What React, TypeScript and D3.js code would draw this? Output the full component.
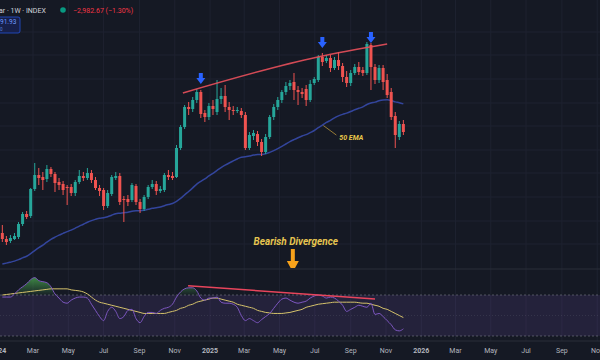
import React from "react";
import * as d3 from "d3";

const W = 600;
const H = 360;

// weekly candles (Mondays)
const weeks: Date[] = d3.timeMonday.range(new Date(2024, 0, 8), new Date(2025, 11, 2));

const opens = [127,121,119,121,123,136,146,144,171,185,183,181,191,186,178,176,173,173,167,178,
  184,182,187,180,172,170,154,166,182,184,161,161,160,174,158,151,163,173,176,169,
  170,185,184,183,212,233,253,251,260,268,247,243,254,248,261,264,253,250,249,249,
  245,212,224,226,218,208,223,243,253,260,268,274,278,270,268,271,260,277,280,303,
  299,302,292,300,294,283,277,287,293,290,287,315,293,280,292,280,268,244,223,236];
const highs = [135,124,125,127,138,148,149,172,197,192,188,195,193,188,182,179,175,176,180,190,
  188,192,190,183,175,172,170,185,188,187,164,165,177,176,161,165,175,180,179,174,
  187,190,188,215,235,255,258,263,271,270,250,257,260,280,272,275,258,254,253,252,
  248,228,230,229,221,226,245,256,263,270,278,280,287,274,272,275,280,283,305,307,
  305,305,303,308,297,289,290,296,298,293,318,317,296,295,295,286,272,248,239,240];
const lows = [118,115,117,120,121,134,141,142,169,175,170,178,183,168,170,165,155,164,164,176,
  179,180,177,170,164,150,152,164,180,155,138,154,158,155,147,149,161,171,165,167,
  168,180,180,182,210,231,245,248,257,242,238,240,245,245,256,248,240,245,247,242,
  210,210,220,214,204,206,221,240,250,257,265,270,260,255,262,254,258,275,278,294,
  297,288,290,290,278,273,274,285,285,284,285,270,276,277,270,262,240,212,220,225];
const closes = [121,118,122,124,136,146,143,171,185,182,180,191,186,177,175,170,172,167,178,184,
  182,187,180,172,169,154,167,183,184,158,160,158,175,158,151,163,173,176,169,171,
  185,183,182,212,233,253,251,260,268,246,243,254,251,261,264,253,250,249,250,245,
  212,225,227,218,208,223,243,253,260,268,274,277,270,268,266,260,276,281,303,298,
  302,292,300,294,283,277,287,293,288,287,316,293,280,292,278,265,243,225,236,228];
const emaSeed = 96;

const rsiValues = [68,68,68,71,75,78,81,85,87,84,83,82,78,71,67,63,62,65,67,68,
  68,67,61,55,49,45,54,58,54,47,49,55,56,47,43,49,53,53,52,55,
  57,58,61,68,73,76,77,77,74,67,65,67,67,68,63,62,62,61,58,50,
  45,47,45,43,46,49,52,57,62,66,67,65,63,62,63,64,67,69,70,69,
  67,68,67,64,60,54,56,58,60,59,58,62,51,52,49,45,41,36,35,37];
const rsiMaValues = [70,70.5,71,71.5,72,72.5,73,73.5,74,74.5,75,75.5,76,76,76,76,76,75,74.5,74,
  73,71,68,65,63,62,61,60,59,58,57,56,55,54,53,52,52,52,52,52,
  52,53,54,55,57,58,60,61,63,64,65,66,67,67,66,65,64,63,61,60,
  59,58,57,55,54,53,52.5,52,52,52,52.5,53,54,55,56,58,59,60,61,61.5,
  62,62.5,63,63,63,63,63,63,62.5,62,62,61,60,59,57,56,54,52,50,48];

const priceGridTicks = [328, 305, 281, 257, 234, 210, 187, 163, 139, 116];
const rsiBands = [70, 30];

const resistancePts: [Date, number][] = [
  [new Date(2024, 10, 15), 267],
  [new Date(2025, 6, 6), 303],
  [new Date(2025, 10, 3), 316],
];
const divergencePts: [Date, number][] = [
  [new Date(2024, 10, 24), 79],
  [new Date(2025, 9, 13), 66],
];
const peakArrows = [
  { i: 49, v: 276 },
  { i: 79, v: 312 },
  { i: 91, v: 317 },
];
const emaNoteDate = new Date(2025, 6, 14);
const divergenceNoteDate = new Date(2025, 4, 24);

const UP = "#26a69a";
const DOWN = "#ef5350";

export default function App() {
  const x = d3.scaleTime().domain([new Date(2024, 2, 1), new Date(2025, 10, 1)]).range([33, 386]);
  const y = d3.scaleLinear().domain([110, 320]).range([250, 40]);
  const ry = d3.scaleLinear().domain([30, 70]).range([336, 295]);

  const alpha = 2 / 51;
  const ema: number[] = [];
  closes.forEach((c, i) => {
    ema.push(i === 0 ? emaSeed : ema[i - 1] + alpha * (c - ema[i - 1]));
  });

  const timeTicks = d3.timeMonth.every(2)!.range(x.invert(-30), x.invert(630));
  const fmt = (d: Date) => (d.getMonth() === 0 ? d3.timeFormat("%Y")(d) : d3.timeFormat("%b")(d));

  const emaLine = d3.line<number>().x((_, i) => x(weeks[i])).y((v) => y(v)).curve(d3.curveMonotoneX)(ema) || "";
  const rsiLine = d3.line<number>().x((_, i) => x(weeks[i])).y((v) => ry(v)).curve(d3.curveMonotoneX)(rsiValues) || "";
  const rsiMaLine = d3.line<number>().x((_, i) => x(weeks[i])).y((v) => ry(v)).curve(d3.curveMonotoneX)(rsiMaValues) || "";
  const rsiArea = d3.area<number>().x((_, i) => x(weeks[i])).y0(ry(70)).y1((v) => ry(v)).curve(d3.curveMonotoneX)(rsiValues) || "";
  const resLine = d3.line<[Date, number]>().x((d) => x(d[0])).y((d) => y(d[1])).curve(d3.curveMonotoneX)(resistancePts) || "";
  const divLine = d3.line<[Date, number]>().x((d) => x(d[0])).y((d) => ry(d[1]))(divergencePts) || "";

  const bw = 3;
  const emaIdx = d3.leastIndex(weeks, (a, b) => Math.abs(+a - +emaNoteDate) - Math.abs(+b - +emaNoteDate)) ?? 0;
  const ex = x(weeks[emaIdx]);
  const ey = y(ema[emaIdx]);
  const dx = x(divergenceNoteDate);

  const font = "Roboto, 'Noto Sans', sans-serif";

  return (
    <svg width={W} height={H} style={{ display: "block", position: "absolute", left: 0, top: 0 }} fontFamily={font}>
      <defs>
        <linearGradient id="obFill" gradientUnits="userSpaceOnUse" x1="0" y1={ry(90)} x2="0" y2={ry(70)}>
          <stop offset="0" stopColor="#4caf50" stopOpacity={0.85} />
          <stop offset="1" stopColor="#4caf50" stopOpacity={0.05} />
        </linearGradient>
        <clipPath id="obClip">
          <rect x={0} y={270} width={W} height={ry(70) - 270} />
        </clipPath>
        <clipPath id="mainClip">
          <rect x={0} y={0} width={W} height={268} />
        </clipPath>
      </defs>
      <rect width={W} height={H} fill="#151924" />

      {/* horizontal grid */}
      {priceGridTicks.map((v) => (
        <line key={v} x1={0} x2={W} y1={y(v)} y2={y(v)} stroke="#1e2230" strokeWidth={1} />
      ))}
      {/* vertical grid */}
      {timeTicks.map((d) => (
        <line key={+d} x1={x(d)} x2={x(d)} y1={0} y2={341} stroke="#1e2230" strokeWidth={1} />
      ))}

      {/* pane separators */}
      <line x1={0} x2={W} y1={269} y2={269} stroke="#2a2e39" strokeWidth={1} />
      <line x1={0} x2={W} y1={341} y2={341} stroke="#2a2e39" strokeWidth={1} />

      {/* RSI pane */}
      <rect x={0} y={ry(70)} width={W} height={ry(30) - ry(70)} fill="#7e57c2" fillOpacity={0.15} />
      {rsiBands.map((b) => (
        <line key={b} x1={0} x2={W} y1={ry(b)} y2={ry(b)} stroke="#787b86" strokeOpacity={0.6} strokeDasharray="2,2" />
      ))}
      <line x1={0} x2={W} y1={ry(50)} y2={ry(50)} stroke="#787b86" strokeOpacity={0.2} strokeDasharray="1,2" />
      <path d={rsiArea} fill="url(#obFill)" clipPath="url(#obClip)" />
      <path d={rsiMaLine} fill="none" stroke="#d6c36b" strokeWidth={1} />
      <path d={rsiLine} fill="none" stroke="#7e57c2" strokeWidth={1} />
      <path d={divLine} fill="none" stroke="#e8455c" strokeWidth={1.5} />

      {/* main pane */}
      <g clipPath="url(#mainClip)">
        <path d={emaLine} fill="none" stroke="#33459c" strokeWidth={1.5} />
        {weeks.map((d, i) => {
          const cx = x(d);
          const up = closes[i] >= opens[i];
          const col = up ? UP : DOWN;
          const top = y(Math.max(opens[i], closes[i]));
          const bot = y(Math.min(opens[i], closes[i]));
          return (
            <g key={i}>
              <line x1={cx} x2={cx} y1={y(highs[i])} y2={y(lows[i])} stroke={col} strokeWidth={1} />
              <rect x={cx - bw / 2} y={top} width={bw} height={Math.max(1, bot - top)} fill={col} />
            </g>
          );
        })}
        <path d={resLine} fill="none" stroke="#e8505b" strokeWidth={1.5} strokeOpacity={0.9} />
        {peakArrows.map((a) => {
          const cx = x(weeks[a.i]);
          const ty = y(a.v);
          const pts = [
            [cx - 2, ty - 11], [cx + 2, ty - 11], [cx + 2, ty - 6], [cx + 4.5, ty - 6],
            [cx, ty], [cx - 4.5, ty - 6], [cx - 2, ty - 6],
          ];
          return <polygon key={a.i} points={pts.map((p) => p.join(",")).join(" ")} fill="#2962ff" />;
        })}
        {/* 50 EMA note */}
        <line x1={ex + 14} y1={ey + 10} x2={ex + 1} y2={ey + 0.5} stroke="#b8943a" strokeWidth={0.8} />
        <text x={ex + 17} y={ey + 15} fontSize={7} fontWeight="bold" fontStyle="italic" fill="#e9c84a">50 EMA</text>
        {/* Bearish divergence note */}
        <text x={dx + 3} y={245} fontSize={10} fontWeight="bold" fontStyle="italic" fill="#e6c550" textAnchor="middle">
          Bearish Divergence
        </text>
        <polygon
          points={[
            [dx - 2, 249], [dx + 2, 249], [dx + 2, 261], [dx + 6, 261], [dx, 272], [dx - 6, 261], [dx - 2, 261],
          ].map((p) => p.join(",")).join(" ")}
          fill="#f7a21b"
        />
      </g>

      {/* time axis */}
      {timeTicks.map((d) => (
        <text key={+d} x={x(d)} y={353} fontSize={7} fill="#b2b5be" textAnchor="middle" fontWeight={d.getMonth() === 0 ? "bold" : "normal"}>
          {fmt(d)}
        </text>
      ))}

      {/* header */}
      <text x={-1} y={12.5} fontSize={7} fill="#d1d4dc">ar · 1W · INDEX</text>
      <circle cx={63} cy={10} r={2.8} fill="#089981" />
      <text x={73} y={12.5} fontSize={7} fill="#f23645">−2,982.67 (−1.30%)</text>
      <rect x={-3} y={17} width={23} height={16} rx={2} fill="#17204a" stroke="#2451d6" strokeWidth={0.8} />
      <text x={0} y={24} fontSize={6.5} fill="#6f9bff">91.93</text>
      <text x={0} y={31} fontSize={4.5} fill="#5b7fd6">0</text>
    </svg>
  );
}
